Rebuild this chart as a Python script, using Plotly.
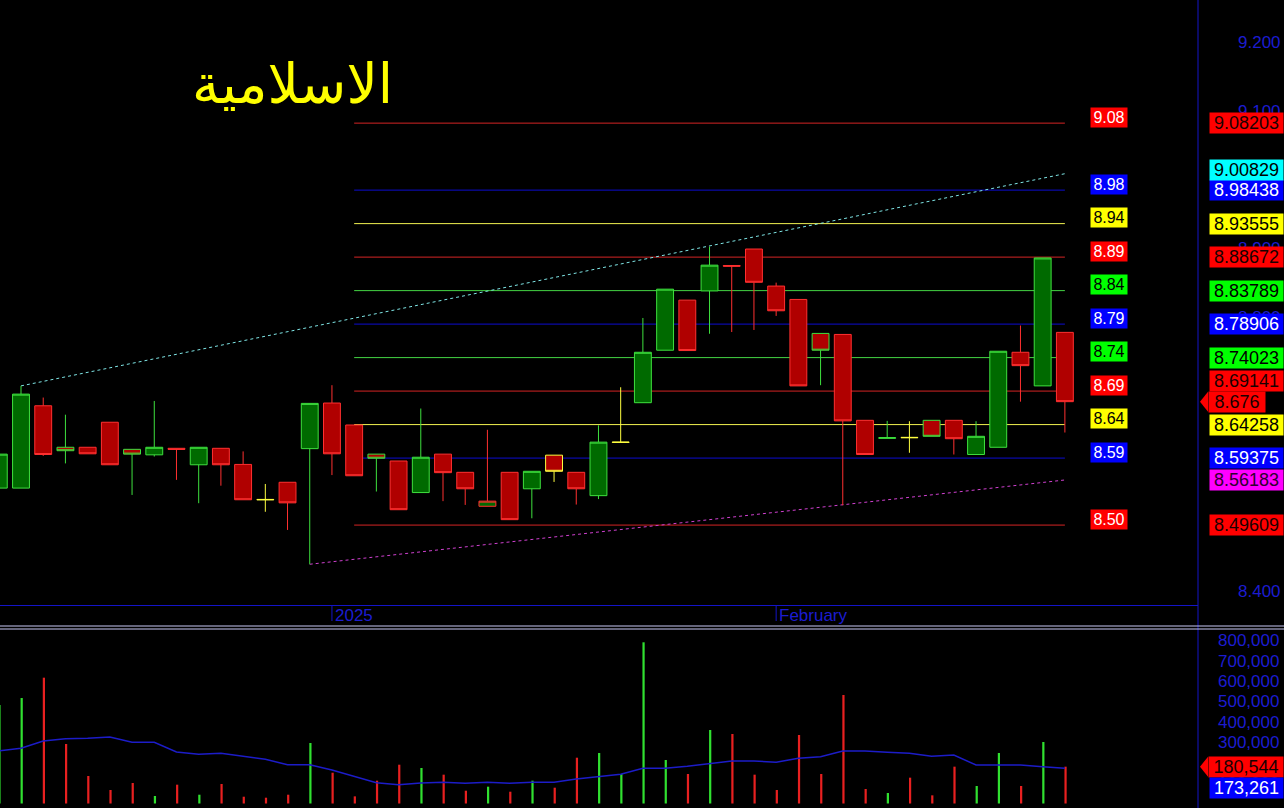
import plotly.graph_objects as go

# ---------------- data ----------------
idx = list(range(49))
opens = [8.550, 8.550, 8.670, 8.6095, 8.6095, 8.646, 8.6065, 8.5985, 8.608, 8.584,
         8.608, 8.5845, 8.5335, 8.5585, 8.6075, 8.674, 8.642, 8.5995, 8.5895, 8.5435,
         8.5995, 8.573, 8.5235, 8.573, 8.549, 8.598, 8.573, 8.539, 8.6165, 8.6745,
         8.751, 8.824, 8.8375, 8.8745, 8.8985, 8.8445, 8.825, 8.7755, 8.774, 8.6488,
         8.6225, 8.624, 8.6488, 8.6488, 8.599, 8.6095, 8.748, 8.699, 8.777]
highs = [8.5995, 8.699, 8.682, 8.657, 8.6095, 8.646, 8.6065, 8.677, 8.608, 8.6095,
         8.608, 8.6035, 8.556, 8.5585, 8.6735, 8.700, 8.642, 8.5995, 8.5895, 8.666,
         8.5995, 8.573, 8.635, 8.573, 8.5745, 8.598, 8.573, 8.6415, 8.697, 8.798,
         8.840, 8.824, 8.902, 8.8745, 8.8985, 8.8495, 8.825, 8.7755, 8.774, 8.6488,
         8.648, 8.6475, 8.6488, 8.6488, 8.6475, 8.7495, 8.787, 8.8855, 8.777]
lows = [8.550, 8.550, 8.597, 8.586, 8.600, 8.584, 8.540, 8.596, 8.562, 8.528,
        8.5535, 8.533, 8.5155, 8.489, 8.439, 8.569, 8.568, 8.545, 8.5185, 8.5435,
        8.531, 8.5255, 8.5235, 8.504, 8.506, 8.559, 8.526, 8.534, 8.6165, 8.6745,
        8.751, 8.7505, 8.775, 8.7775, 8.7805, 8.801, 8.699, 8.700, 8.525, 8.599,
        8.6225, 8.6015, 8.6255, 8.599, 8.599, 8.6095, 8.676, 8.699, 8.631]
closes = [8.5995, 8.687, 8.599, 8.6045, 8.600, 8.584, 8.5995, 8.6095, 8.6065, 8.6095,
          8.584, 8.533, 8.533, 8.5285, 8.6735, 8.600, 8.568, 8.5935, 8.5185, 8.595,
          8.5725, 8.549, 8.531, 8.504, 8.5745, 8.5745, 8.549, 8.617, 8.617, 8.748,
          8.840, 8.7505, 8.875, 8.8735, 8.850, 8.8085, 8.699, 8.751, 8.648, 8.599,
          8.6235, 8.6235, 8.6255, 8.622, 8.6255, 8.7495, 8.7285, 8.8855, 8.676]
volumes = [482800, 517000, 616700, 291700, 134800, 66200, 100500, 36800, 92200, 43100,
           95600, 33300, 28400, 43100, 296600, 151000, 35000, 111800, 190200, 174000,
           141300, 62700, 82400, 57800, 111800, 77500, 224500, 247500, 144600, 790200,
           213200, 144600, 360300, 340700, 141300, 66200, 335800, 144600, 531900, 71100,
           51500, 126600, 40000, 180600, 85800, 247500, 85800, 301500, 180544]
volume_ma = [257400, 270600, 306400, 317600, 319600, 326000, 300000, 300000, 252500, 241100,
             246100, 232800, 216500, 190200, 190200, 164200, 131400, 102000, 92200, 100500,
             103900, 99000, 103900, 99000, 103900, 103900, 120100, 131400, 143100, 172500,
             172500, 182400, 197100, 208300, 208300, 202000, 221600, 229400, 257400, 257400,
             251000, 246100, 231400, 237700, 188700, 188700, 188700, 180400, 173261]

levels = [9.08203, 8.98438, 8.93555, 8.88672, 8.83789, 8.78906, 8.74023, 8.69141,
          8.64258, 8.59375, 8.49609]
level_colors = ['red', 'blue', 'yellow', 'red', 'green', 'blue', 'green', 'red',
                'yellow', 'blue', 'red']
level_span = [16, 48]
level_label_x = 50

upper_trend_x = [1, 48]
upper_trend_y = [8.699, 9.00829]
lower_trend_x = [14, 48]
lower_trend_y = [8.439, 8.56183]

last_price = 8.676
last_volume = 180544
last_volume_ma = 173261

price_ticks = [8.4, 8.5, 8.6, 8.7, 8.8, 8.9, 9.0, 9.1, 9.2]
volume_ticks = [0, 100000, 200000, 300000, 400000, 500000, 600000, 700000, 800000]
date_ticks = [15, 35]
date_labels = ['2025', 'February']
title_text = 'الاسلامية'

# ---------------- layout geometry ----------------
W, H = 1284, 808
PLOT_R = 1198
step_px, x0_px = 22.21, -1.2
x_range = [(0 - x0_px) / step_px, (PLOT_R - x0_px) / step_px]
xdom = [0, PLOT_R / W]

PRICE_BOTTOM_PX = 605
p_top = 8.4 + 591 / 686.0
p_bot = 8.4 + (591 - PRICE_BOTTOM_PX) / 686.0
VOL_TOP_PX = 630
v_top = (803.5 - VOL_TOP_PX) / 20.4 * 1e5
v_bot = (803.5 - H) / 20.4 * 1e5

def py(px):
    return (H - px) / H

BLUE_TXT = '#1c1cd0'
AXIS_BLUE = '#1414c8'
FONT = 'Arial, Liberation Sans, sans-serif'

line_col = {'red': '#d42424', 'blue': '#0c0cd0', 'yellow': '#f2f250', 'green': '#44d444'}
tag_bg = {'red': '#ff0000', 'blue': '#0000ff', 'yellow': '#ffff00', 'green': '#00ff00',
          'cyan': '#00ffff', 'magenta': '#ff00ff'}
tag_fg = {'red': '#1a0000', 'blue': '#ffffff', 'yellow': '#000000', 'green': '#000000',
          'cyan': '#000000', 'magenta': '#300030'}
lvl_fg = {'red': '#ffffff', 'blue': '#ffffff', 'yellow': '#000000', 'green': '#000000'}

# border/wick colour: close vs previous close
border_group = []
for i in idx:
    if i == 0 or closes[i] > closes[i - 1] + 1e-9:
        border_group.append('up')
    elif closes[i] < closes[i - 1] - 1e-9:
        border_group.append('down')
    else:
        border_group.append('flat')
border_color = {'up': '#3ee03e', 'down': '#ff3030', 'flat': '#ffff40'}

fig = go.Figure()

for g in ['up', 'down', 'flat']:
    sel = [i for i in idx if border_group[i] == g]
    fig.add_trace(go.Candlestick(
        x=sel, open=[opens[i] for i in sel], high=[highs[i] for i in sel],
        low=[lows[i] for i in sel], close=[closes[i] for i in sel],
        increasing=dict(fillcolor='#006a00', line=dict(color=border_color[g], width=1)),
        decreasing=dict(fillcolor='#b00000', line=dict(color=border_color[g], width=1)),
        whiskerwidth=0, showlegend=False, hoverinfo='skip', xaxis='x', yaxis='y'))

vol_colors = ['#30e030' if closes[i] > opens[i] else '#e82020' for i in idx]
fig.add_trace(go.Bar(x=idx, y=volumes, width=0.1, offset=-0.02,
                     marker=dict(color=vol_colors, line=dict(width=0)),
                     showlegend=False, hoverinfo='skip', xaxis='x2', yaxis='y2'))
fig.add_trace(go.Scatter(x=idx, y=volume_ma, mode='lines', line=dict(color='#1c1cc8', width=1.5),
                         showlegend=False, hoverinfo='skip', xaxis='x2', yaxis='y2'))

shapes = []
annotations = []

# tag display offsets (px) so stacked tags do not cover each other
tag_shift = {8.69141: 10}

# level lines + labels
for lv, c in zip(levels, level_colors):
    shapes.append(dict(type='line', xref='x', yref='y', x0=level_span[0], x1=level_span[1],
                       y0=lv, y1=lv, line=dict(color=line_col[c], width=1), layer='below'))
    annotations.append(dict(x=level_label_x, y=lv, xref='x', yref='y', text=f'{lv:.2f}',
                            showarrow=False, xanchor='center', yanchor='middle', yshift=6,
                            bgcolor=tag_bg[c], font=dict(family=FONT, size=16, color=lvl_fg[c]),
                            width=36, height=19, borderpad=0))
    annotations.append(dict(x=1, y=lv, xref='paper', yref='y', text=f'{lv:.5f}',
                            showarrow=False, xanchor='right', yanchor='middle',
                            yshift=tag_shift.get(lv, 0),
                            bgcolor=tag_bg[c], font=dict(family=FONT, size=18, color=tag_fg[c]),
                            width=73, height=20, borderpad=0))

# trend lines
shapes.append(dict(type='line', xref='x', yref='y', x0=upper_trend_x[0], x1=upper_trend_x[1],
                   y0=upper_trend_y[0], y1=upper_trend_y[1],
                   line=dict(color='#7fe6e6', width=1, dash='3px,3px'), layer='below'))
shapes.append(dict(type='line', xref='x', yref='y', x0=lower_trend_x[0], x1=lower_trend_x[1],
                   y0=lower_trend_y[0], y1=lower_trend_y[1],
                   line=dict(color='#d040d0', width=1, dash='3px,3px'), layer='below'))
annotations.append(dict(x=1, y=upper_trend_y[1], xref='paper', yref='y', text=f'{upper_trend_y[1]:.5f}',
                        showarrow=False, xanchor='right', yanchor='middle', yshift=4,
                        bgcolor=tag_bg['cyan'], font=dict(family=FONT, size=18, color=tag_fg['cyan']),
                        width=73, height=20, borderpad=0))
annotations.append(dict(x=1, y=lower_trend_y[1], xref='paper', yref='y', text=f'{lower_trend_y[1]:.5f}',
                        showarrow=False, xanchor='right', yanchor='middle',
                        bgcolor=tag_bg['magenta'], font=dict(family=FONT, size=18, color=tag_fg['magenta']),
                        width=73, height=20, borderpad=0))

# last price arrow tag
tip_x = (PLOT_R + 2) / W
base_x = (PLOT_R + 10) / W
hp = 10 * (p_top - p_bot) / PRICE_BOTTOM_PX
shapes.append(dict(type='path', xref='paper', yref='y', fillcolor='#ff0000', line=dict(width=0),
                   path=f'M {tip_x},{last_price} L {base_x},{last_price + hp} L {base_x},{last_price - hp} Z'))
annotations.append(dict(x=base_x, y=last_price, xref='paper', yref='y', text=f'{last_price:.3f}',
                        showarrow=False, xanchor='left', yanchor='middle', bgcolor='#ff0000',
                        font=dict(family=FONT, size=18, color='#1a0000'), width=56, height=20, borderpad=0))

# volume tags
hv = 10 * (v_top - v_bot) / (H - VOL_TOP_PX)
shapes.append(dict(type='path', xref='paper', yref='y2', fillcolor='#ff0000', line=dict(width=0),
                   path=f'M {tip_x},{last_volume} L {base_x},{last_volume + hv} L {base_x},{last_volume - hv} Z'))
annotations.append(dict(x=base_x, y=last_volume, xref='paper', yref='y2', text=f'{last_volume:,}',
                        showarrow=False, xanchor='left', yanchor='middle', bgcolor='#ff0000',
                        font=dict(family=FONT, size=18, color='#1a0000'), width=74, height=20, borderpad=0))
annotations.append(dict(x=1, y=last_volume_ma, xref='paper', yref='y2', text=f'{last_volume_ma:,}',
                        showarrow=False, xanchor='right', yanchor='middle', yshift=-20, bgcolor='#0000ff',
                        font=dict(family=FONT, size=18, color='#ffffff'), width=73, height=20, borderpad=0))

# date ticks
for t, lab in zip(date_ticks, date_labels):
    shapes.append(dict(type='line', xref='x', yref='paper', x0=t, x1=t,
                       y0=py(PRICE_BOTTOM_PX), y1=py(PRICE_BOTTOM_PX + 16),
                       line=dict(color=AXIS_BLUE, width=1)))
    annotations.append(dict(x=t, y=py(PRICE_BOTTOM_PX), xref='x', yref='paper', text=lab,
                            showarrow=False, xanchor='left', yanchor='top', xshift=1, yshift=1,
                            font=dict(family=FONT, size=17, color=BLUE_TXT)))

# separators
shapes.append(dict(type='line', xref='paper', yref='paper', x0=xdom[1], x1=xdom[1], y0=0, y1=1,
                   line=dict(color=AXIS_BLUE, width=1)))
for ypx in (626, 629):
    shapes.append(dict(type='line', xref='paper', yref='paper', x0=0, x1=1, y0=py(ypx), y1=py(ypx),
                       line=dict(color='#c8c8f4', width=1)))

# title
annotations.append(dict(x=292 / W, y=py(84), xref='paper', yref='paper', text=title_text,
                        showarrow=False, xanchor='center', yanchor='middle',
                        font=dict(family='DejaVu Sans, Noto Sans, sans-serif', size=55, color='#ffff00')))

fig.update_layout(
    width=W, height=H, margin=dict(l=0, r=0, t=0, b=0),
    paper_bgcolor='#000000', plot_bgcolor='#000000',
    boxgap=0.24, boxgroupgap=0, showlegend=False, hovermode=False,
    xaxis=dict(domain=xdom, range=x_range, anchor='y', showgrid=False, zeroline=False,
               showticklabels=False, ticks='', showline=True, linecolor=AXIS_BLUE, linewidth=1,
               rangeslider=dict(visible=False)),
    yaxis=dict(domain=[py(PRICE_BOTTOM_PX), 1], range=[p_bot, p_top], side='right', anchor='x',
               showgrid=False, zeroline=False, tickvals=price_ticks,
               ticktext=[f'{v:.3f}' for v in price_ticks], ticks='',
               tickfont=dict(family=FONT, size=17, color=BLUE_TXT), ticklabelstandoff=39,
               showline=False),
    xaxis2=dict(domain=xdom, range=x_range, anchor='y2', matches='x', showgrid=False, zeroline=False,
                showticklabels=False, ticks='', showline=False),
    yaxis2=dict(domain=[0, py(VOL_TOP_PX)], range=[v_bot, v_top], side='right', anchor='x2',
                showgrid=False, zeroline=False, tickvals=volume_ticks,
                ticktext=[f'{v:,}' for v in volume_ticks], ticks='',
                tickfont=dict(family=FONT, size=17, color=BLUE_TXT), ticklabelstandoff=19,
                showline=False),
    shapes=shapes, annotations=annotations,
)

fig.write_html('out.html', config={'displayModeBar': False},
               post_script="document.body.style.margin='0';document.body.style.background='#000';")
